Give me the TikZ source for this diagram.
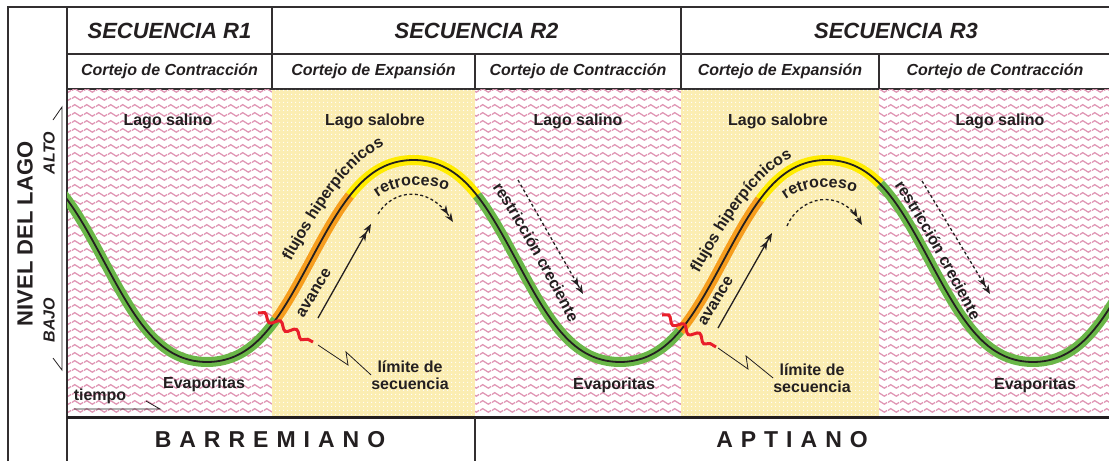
\documentclass[tikz,border=0pt]{standalone}
\usepackage{fontspec}
\setmainfont{Liberation Sans}
\usetikzlibrary{positioning,arrows.meta,patterns.meta,decorations.pathmorphing,decorations.text}

\definecolor{LineGray}{RGB}{50,47,48}
\definecolor{InkBlack}{RGB}{35,31,32}
\definecolor{WavePink}{RGB}{224,150,180}
\definecolor{SandYellow}{RGB}{251,237,178}
\definecolor{BandGreen}{RGB}{106,183,72}
\definecolor{BandOrange}{RGB}{246,157,30}
\definecolor{BandYellow}{RGB}{255,236,0}
\definecolor{LimitRed}{RGB}{233,30,42}

\tikzdeclarepattern{
  name=SaltWaves,
  type=uncolored,
  bounding box={(0pt,0pt) and (12pt,8pt)},
  tile size={(12pt,8pt)},
  code={
    \draw[line width=1.4pt] (0pt,4pt) sin (3pt,6pt) cos (6pt,4pt) sin (9pt,2pt) cos (12pt,4pt);
  }
}

\newcommand{\CurveFont}{\fontsize{16}{16}\selectfont\bfseries\color{InkBlack}}

\begin{document}
\begin{tikzpicture}[x=1pt, y=-1pt, node distance=0pt,
declare function={lvl(\t)=261+101*(cos((\t-207)/413*360)-0.05*cos((\t-207)/413*1080))/0.95;},
FrameStyle/.style={draw=LineGray, line width=1.5pt},
HeadStyle/.style={draw=LineGray, line width=1.5pt, minimum height=47, inner sep=0pt,
                outer sep=0pt, text=InkBlack, font=\fontsize{22}{22}\selectfont\bfseries\itshape},
CortStyle/.style={HeadStyle, minimum height=35, font=\fontsize{16}{16}\selectfont\bfseries\itshape},
SaltStyle/.style={fill=white, postaction={pattern=SaltWaves, pattern color=WavePink},
                minimum height=328, inner sep=0pt, outer sep=0pt},
SandStyle/.style={fill=SandYellow, postaction={pattern={Dots[radius=0.7pt, distance=4pt]}, pattern color=white},
                minimum height=328, inner sep=0pt, outer sep=0pt},
LakeStyle/.style={text=InkBlack, inner sep=0pt, font=\fontsize{16}{17}\selectfont\bfseries},
AxisStyle/.style={text=InkBlack, inner sep=0pt, rotate=90, font=\fontsize{16}{16}\selectfont\bfseries\itshape},
AgeStyle/.style={text=InkBlack, inner sep=0pt, font=\fontsize{23}{23}\selectfont\bfseries},
BandStyle/.style={line width=10pt},
ThinStyle/.style={draw=InkBlack, line width=0.8pt},
AdvArrow/.style={InkBlack, line width=1.3pt, -{Stealth[length=9pt,width=7pt]Stealth[length=9pt,width=7pt]}},
BackArrow/.style={AdvArrow, dash pattern=on 3pt off 2.5pt},
RedLimit/.style={LimitRed, line width=3pt, decorate, decoration={snake, segment length=18pt, amplitude=3.5pt}},
]
\useasboundingbox (0,0) rectangle (1109,461);

% cabecera
\node[HeadStyle, minimum width=205, anchor=north west] (s1) at (67,7) {SECUENCIA R1};
\node[HeadStyle, minimum width=409, right=of s1] (s2) {SECUENCIA R2};
\node[HeadStyle, minimum width=430, right=of s2] (s3) {SECUENCIA R3};
\node[CortStyle, minimum width=205, anchor=north west] (c1) at (s1.south west) {Cortejo de Contracción};
\node[CortStyle, minimum width=203, right=of c1] (c2) {Cortejo de Expansión};
\node[CortStyle, minimum width=206, right=of c2] (c3) {Cortejo de Contracción};
\node[CortStyle, minimum width=198, right=of c3] (c4) {Cortejo de Expansión};
\node[CortStyle, minimum width=232, right=of c4] (c5) {Cortejo de Contracción};

% columnas del lago
\node[SaltStyle, minimum width=205, below=0.75pt of c1] (p1) {};
\node[SandStyle, minimum width=203, below=0.75pt of c2] (p2) {};
\node[SaltStyle, minimum width=206, below=0.75pt of c3] (p3) {};
\node[SandStyle, minimum width=198, below=0.75pt of c4] (p4) {};
\node[SaltStyle, minimum width=232, below=0.75pt of c5] (p5) {};

% marco
\draw[FrameStyle] (8,461) -- (8,7) -- (s1.north west) -- (67,461);
\draw[InkBlack, line width=3pt] (p1.south west) -- (p5.south east);
\draw[FrameStyle] (p3.south west) -- ++(0,43);

% curva del nivel del lago
\begin{scope}
\clip (p1.north west) rectangle (p5.south east);
\draw[BandStyle, BandGreen] plot[domain=60:276, samples=80] (\x,{lvl(\x)});
\draw[BandStyle, BandOrange] plot[domain=276:350, samples=30] (\x,{lvl(\x)});
\draw[BandStyle, BandYellow] plot[domain=350:477, samples=45] (\x,{lvl(\x)});
\draw[BandStyle, BandGreen] plot[domain=477:680, samples=80] (\x,{lvl(\x)});
\draw[BandStyle, BandOrange] plot[domain=680:760, samples=30] (\x,{lvl(\x)});
\draw[BandStyle, BandYellow] plot[domain=760:880, samples=45] (\x,{lvl(\x)});
\draw[BandStyle, BandGreen] plot[domain=880:1120, samples=90] (\x,{lvl(\x)});
\draw[InkBlack, line width=1.8pt] plot[domain=60:1120, samples=380] (\x,{lvl(\x)});
\end{scope}

% textos de las columnas
\node[LakeStyle] (ls1) at (168,121) {Lago salino};
\node[LakeStyle] (lb1) at (375,121) {Lago salobre};
\node[LakeStyle] (ls2) at (578,121) {Lago salino};
\node[LakeStyle] (lb2) at (778,121) {Lago salobre};
\node[LakeStyle] (ls3) at (1000,121) {Lago salino};
\node[LakeStyle] (ev1) at (204,384) {Evaporitas};
\node[LakeStyle] (ev2) at (614,385) {Evaporitas};
\node[LakeStyle] (ev3) at (1035,385) {Evaporitas};

% limites de secuencia
\coordinate (rl1a) at (258,313);
\coordinate (rl1b) at (313,342);
\coordinate (rl2a) at (662,315);
\coordinate (rl2b) at (716,347);
\draw[RedLimit] (rl1a) -- (rl1b);
\draw[RedLimit] (rl2a) -- (rl2b);
\node[LakeStyle, align=center] (lim1) at (410,375) {límite de\\secuencia};
\node[LakeStyle, align=center] (lim2) at (812,378) {límite de\\secuencia};
\coordinate (ld1) at (318,345);
\coordinate (ld2) at (718,348);
\draw[ThinStyle] (ld1) -- (348,365) -- (346,352) -- (lim1.west);
\draw[ThinStyle] (ld2) -- (748,369) -- (746,356) -- (lim2.west);

% avance y retroceso
\coordinate (av1a) at (318,318);
\coordinate (av1b) at (371,224);
\coordinate (av2a) at (718,328);
\coordinate (av2b) at (772,233);
\draw[AdvArrow] (av1a) -- (av1b);
\draw[AdvArrow] (av2a) -- (av2b);
\node[LakeStyle, rotate=59] (adv1) at (314,293) {avance};
\node[LakeStyle, rotate=59] (adv2) at (716,301) {avance};
\coordinate (rt1a) at (378,214);
\coordinate (rt1b) at (453,222);
\coordinate (rt2a) at (787,226);
\coordinate (rt2b) at (862,225);
\draw[BackArrow] (rt1a) .. controls (392,190) and (428,184) .. (rt1b);
\draw[BackArrow] (rt2a) .. controls (800,196) and (840,188) .. (rt2b);
\path[decorate, decoration={text along path, text align=center, text={|\CurveFont|retroceso}}]
  (377,198) .. controls (395,184) and (425,181) .. (448,191);
\path[decorate, decoration={text along path, text align=center, text={|\CurveFont|retroceso}}]
  (785,200) .. controls (803,186) and (833,183) .. (856,193);

% flujos hiperpicnicos
\path[decorate, decoration={text along path, text align=center, text={|\CurveFont|flujos hiperpícnicos}}]
  (291,261) .. controls (320,210) and (345,165) .. (384,146);
\path[decorate, decoration={text along path, text align=center, text={|\CurveFont|flujos hiperpícnicos}}]
  (699,273) .. controls (728,222) and (753,177) .. (792,158);

% restriccion creciente
\coordinate (rc1a) at (518,180);
\coordinate (rc1b) at (583,294);
\coordinate (rc2a) at (922,181);
\coordinate (rc2b) at (990,294);
\draw[BackArrow] (rc1a) -- (rc1b);
\draw[BackArrow] (rc2a) -- (rc2b);
\path[decorate, decoration={text along path, text align=center, text={|\CurveFont|restricción creciente}}]
  (493,188) .. controls (517,224) and (547,279) .. (569,322);
\path[decorate, decoration={text along path, text align=center, text={|\CurveFont|restricción creciente}}]
  (895,186) .. controls (919,222) and (949,277) .. (971,320);

% eje del nivel y tiempo
\node[text=InkBlack, inner sep=0pt, rotate=90, font=\fontsize{22}{22}\selectfont\bfseries] (nivel) at (25,234) {NIVEL DEL LAGO};
\node[AxisStyle] (alto) at (49,153) {ALTO};
\node[AxisStyle] (bajo) at (49,320) {BAJO};
\coordinate (ax1) at (62,107);
\coordinate (ax2) at (62,370);
\draw[ThinStyle] (53,120) -- (ax1) -- (ax2) -- (53,358);
\node[LakeStyle] (tiempo) at (100,396) {tiempo};
\coordinate (tm1) at (74,409);
\coordinate (tm2) at (160,409);
\draw[ThinStyle] (tm1) -- (tm2) -- (146,401);

% edades
\node[AgeStyle] (barr) at (270,440) {\spaceskip=8pt\relax B A R R E M I A N O};
\node[AgeStyle] (apt) at (792,440) {\spaceskip=8pt\relax A P T I A N O};
\end{tikzpicture}
\end{document}
